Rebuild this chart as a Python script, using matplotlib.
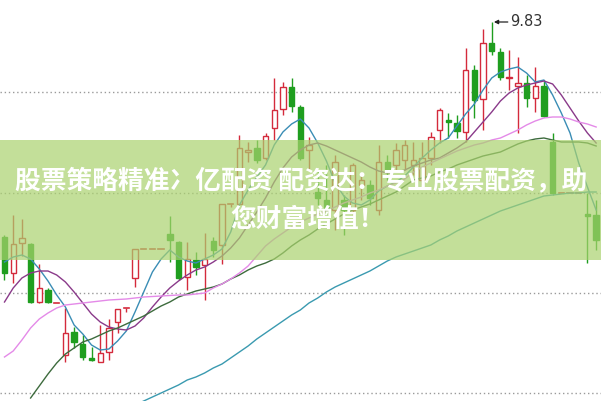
import matplotlib
matplotlib.use('Agg')
import matplotlib.pyplot as plt
from matplotlib.patches import Rectangle

plt.rcParams['font.family'] = ['Noto Sans CJK SC', 'DejaVu Sans']

# ---- candle data (price) ----
opens = [8.755, 8.575, 8.725, 8.72, 8.43, 8.49, 8.425, 8.165, 8.28, 8.22,
         8.15, 8.13, 8.18, 8.33, 8.40, 8.55, 8.695, 8.695, 8.695, 8.77,
         8.73, 8.555, 8.64, 8.615, 8.735, 8.715, 8.92, 8.92, 9.18, 9.20,
         9.15, 9.30, 9.395, 9.505, 9.405, 9.19, 8.98, 8.94, 8.89, 8.94,
         8.89, 9.015, 9.015, 8.89, 9.13, 9.115, 9.14, 9.115, 9.04, 9.15,
         9.29, 9.34, 9.325, 9.28, 9.59, 9.445, 9.725, 9.68, 9.55, 9.51,
         9.525, 9.45, 9.51, 9.23, 8.975, 8.975, 8.975, 8.87, 8.865]
closes = [8.575, 8.72, 8.75, 8.43, 8.50, 8.43, 8.425, 8.275, 8.23, 8.155,
          8.14, 8.175, 8.30, 8.395, 8.40, 8.695, 8.695, 8.695, 8.695, 8.74,
          8.55, 8.645, 8.605, 8.645, 8.69, 8.92, 8.92, 9.20, 9.19, 9.14,
          9.26, 9.39, 9.505, 9.41, 9.15, 9.215, 8.95, 8.89, 9.13, 8.89,
          9.115, 9.04, 8.95, 9.13, 9.09, 9.19, 9.215, 9.14, 9.15, 9.255,
          9.39, 9.33, 9.285, 9.59, 9.44, 9.725, 9.685, 9.555, 9.555, 9.525,
          9.45, 9.51, 9.36, 8.975, 8.975, 8.975, 8.975, 8.86, 8.74]
highs = [8.765, 8.865, 8.845, 8.725, 8.62, 8.50, 8.425, 8.40, 8.305, 8.265,
         8.205, 8.315, 8.345, 8.395, 8.40, 8.695, 8.695, 8.695, 8.695, 8.86,
         8.735, 8.73, 8.68, 8.775, 8.755, 8.92, 8.92, 9.265, 9.23, 9.24,
         9.275, 9.55, 9.53, 9.55, 9.415, 9.255, 9.09, 9.115, 9.165, 8.965,
         9.125, 9.065, 9.04, 9.215, 9.165, 9.225, 9.24, 9.23, 9.23, 9.28,
         9.40, 9.375, 9.365, 9.70, 9.615, 9.795, 9.83, 9.70, 9.69, 9.655,
         9.565, 9.605, 9.54, 9.275, 8.975, 8.975, 8.975, 8.975, 8.94]
lows = [8.54, 8.525, 8.66, 8.425, 8.425, 8.425, 8.425, 8.13, 8.20, 8.14,
        8.135, 8.13, 8.14, 8.275, 8.38, 8.505, 8.695, 8.695, 8.695, 8.63,
        8.54, 8.49, 8.565, 8.44, 8.655, 8.62, 8.905, 8.92, 9.13, 9.125,
        9.14, 9.24, 9.365, 9.38, 9.14, 9.09, 8.915, 8.865, 8.79, 8.765,
        8.865, 8.94, 8.915, 8.865, 9.04, 9.08, 9.09, 9.065, 9.015, 9.115,
        9.225, 9.25, 9.25, 9.23, 9.35, 9.29, 9.665, 9.54, 9.49, 9.275,
        9.405, 9.38, 9.355, 8.965, 8.975, 8.975, 8.975, 8.625, 8.69]

# ---- moving averages ----
ma5 = [8.63, 8.655, 8.665, 8.645, 8.595, 8.535, 8.465, 8.405, 8.315, 8.27,
       8.215, 8.19, 8.195, 8.235, 8.285, 8.38, 8.48, 8.58, 8.645, 8.69,
       8.655, 8.635, 8.625, 8.645, 8.665, 8.695, 8.78, 8.915, 8.99, 9.055,
       9.115, 9.215, 9.28, 9.32, 9.345, 9.30, 9.225, 9.135, 9.025, 8.96,
       8.925, 8.915, 8.94, 8.985, 9.01, 9.03, 9.06, 9.105, 9.15, 9.19,
       9.225, 9.25, 9.31, 9.37, 9.42, 9.49, 9.55, 9.58, 9.595, 9.605,
       9.575, 9.53, 9.54, 9.465, 9.375, 9.275, 9.125, 9.005, 8.89]
ma10 = [8.43, 8.50, 8.55, 8.575, 8.585, 8.585, 8.565, 8.53, 8.48, 8.425,
        8.37, 8.33, 8.305, 8.295, 8.29, 8.31, 8.35, 8.405, 8.455, 8.50,
        8.535, 8.565, 8.59, 8.605, 8.63, 8.66, 8.70, 8.75, 8.815, 8.88,
        8.95, 9.03, 9.10, 9.155, 9.19, 9.215, 9.225, 9.21, 9.19, 9.17,
        9.15, 9.13, 9.105, 9.085, 9.075, 9.08, 9.09, 9.11, 9.125, 9.14,
        9.15, 9.175, 9.20, 9.23, 9.28, 9.33, 9.38, 9.435, 9.475, 9.50,
        9.515, 9.525, 9.535, 9.52, 9.465, 9.40, 9.335, 9.275, 9.225]
ma20_start = 3
ma20 = [7.95, 8.01, 8.07, 8.125, 8.17, 8.20, 8.23, 8.245, 8.265, 8.285,
        8.30, 8.32, 8.34, 8.36, 8.385, 8.41, 8.43, 8.455, 8.47, 8.485,
        8.495, 8.505, 8.52, 8.545, 8.565, 8.59, 8.61, 8.625, 8.645, 8.675,
        8.71, 8.74, 8.765, 8.795, 8.82, 8.845, 8.87, 8.89, 8.905, 8.92,
        8.94, 8.96, 8.98, 9.01, 9.04, 9.05, 9.06, 9.08, 9.095, 9.115,
        9.13, 9.145, 9.16, 9.17, 9.18, 9.20, 9.22, 9.235, 9.245, 9.25,
        9.24, 9.23, 9.23, 9.23, 9.225, 9.21]
ma30 = [8.155, 8.185, 8.24, 8.30, 8.345, 8.375, 8.40, 8.415, 8.42, 8.425,
        8.43, 8.435, 8.44, 8.4425, 8.445, 8.45, 8.455, 8.4575, 8.46, 8.4625,
        8.465, 8.465, 8.47, 8.475, 8.50, 8.52, 8.545, 8.575, 8.61, 8.66,
        8.71, 8.745, 8.775, 8.805, 8.83, 8.85, 8.87, 8.885, 8.905, 8.925,
        8.94, 8.955, 8.975, 8.99, 9.01, 9.025, 9.045, 9.08, 9.105, 9.125,
        9.145, 9.165, 9.185, 9.20, 9.215, 9.225, 9.24, 9.25, 9.27, 9.29,
        9.315, 9.335, 9.35, 9.355, 9.355, 9.345, 9.33, 9.32, 9.305]
ma60_start = 15
ma60 = [7.915, 7.935, 7.955, 7.975, 7.995, 8.015, 8.04, 8.055, 8.075, 8.10,
        8.12, 8.15, 8.18, 8.21, 8.245, 8.275, 8.305, 8.335, 8.365, 8.39,
        8.425, 8.45, 8.48, 8.505, 8.525, 8.545, 8.565, 8.585, 8.61, 8.635,
        8.655, 8.67, 8.685, 8.70, 8.715, 8.74, 8.76, 8.785, 8.805, 8.825,
        8.845, 8.865, 8.885, 8.90, 8.915, 8.93, 8.945, 8.96, 8.965, 8.97,
        8.975, 8.975, 8.98, 8.98]

grid_levels = [9.48, 8.975, 8.475, 7.975]
high_label = "9.83"
title_line1 = "股票策略精准冫亿配资 配资达：专业股票配资，助"
title_line2 = "您财富增值！"

RED = '#d42a3c'
GREEN = '#1f9e1f'

n = len(opens)
fig = plt.figure(figsize=(6.01, 4.01), dpi=100)
ax = fig.add_axes([0, 0, 1, 1])
ax.set_xlim(-0.517, 68.56)
ax.set_ylim(7.935, 9.94)
ax.axis('off')

for g in grid_levels:
    ax.axhline(g, color='#9a9a9a', lw=1, ls=(0, (1, 2)), zorder=1)

w = 0.62
for i in range(n):
    o, h, l, c = opens[i], highs[i], lows[i], closes[i]
    up = c >= o
    col = RED if up else GREEN
    top, bot = max(o, c), min(o, c)
    if h > top:
        ax.plot([i, i], [top, h], color=col, lw=1, zorder=2, solid_capstyle='butt')
    if l < bot:
        ax.plot([i, i], [l, bot], color=col, lw=1, zorder=2, solid_capstyle='butt')
    if top - bot < 0.004:
        ax.plot([i - w / 2, i + w / 2], [top, top], color=col, lw=1.2, zorder=2)
    else:
        ax.add_patch(Rectangle((i - w / 2, bot), w, top - bot,
                               facecolor='white' if up else col,
                               edgecolor=col, lw=1, zorder=2))

ax.plot(range(n), ma5, color='#3a8db5', lw=1, zorder=3)
ax.plot(range(n), ma10, color='#8a3a8a', lw=1, zorder=3)
ax.plot(range(ma20_start, ma20_start + len(ma20)), ma20, color='#3d6b3d', lw=1, zorder=3)
ax.plot(range(n), ma30, color='#e48ae8', lw=1, zorder=3)
ax.plot(range(ma60_start, ma60_start + len(ma60)), ma60, color='#3a9ab0', lw=1, zorder=3)

# high marker
imax = highs.index(max(highs))
ax.annotate(high_label, xy=(imax + 0.25, highs[imax]), xytext=(12, 0),
            textcoords='offset points', ha='left', va='center',
            fontsize=10.5, color='#333333', family=['DejaVu Sans'],
            arrowprops=dict(arrowstyle='-|>', color='#222222', lw=0.9,
                            mutation_scale=6, shrinkA=0, shrinkB=0),
            zorder=7)

# overlay band with text
ax.add_patch(Rectangle((0, 1 - 260 / 401), 1, 120 / 401, transform=ax.transAxes,
                       facecolor=(170 / 255, 210 / 255, 110 / 255), alpha=0.7,
                       lw=0, zorder=5))
ax.text(0.501, 1 - 181 / 401, title_line1, transform=ax.transAxes, ha='center',
        va='center', fontsize=18.5, color='white', fontweight='bold', zorder=6)
ax.text(0.512, 1 - 219 / 401, title_line2, transform=ax.transAxes, ha='center',
        va='center', fontsize=18.5, color='white', fontweight='bold', zorder=6)

fig.savefig('out.png', dpi=100)
